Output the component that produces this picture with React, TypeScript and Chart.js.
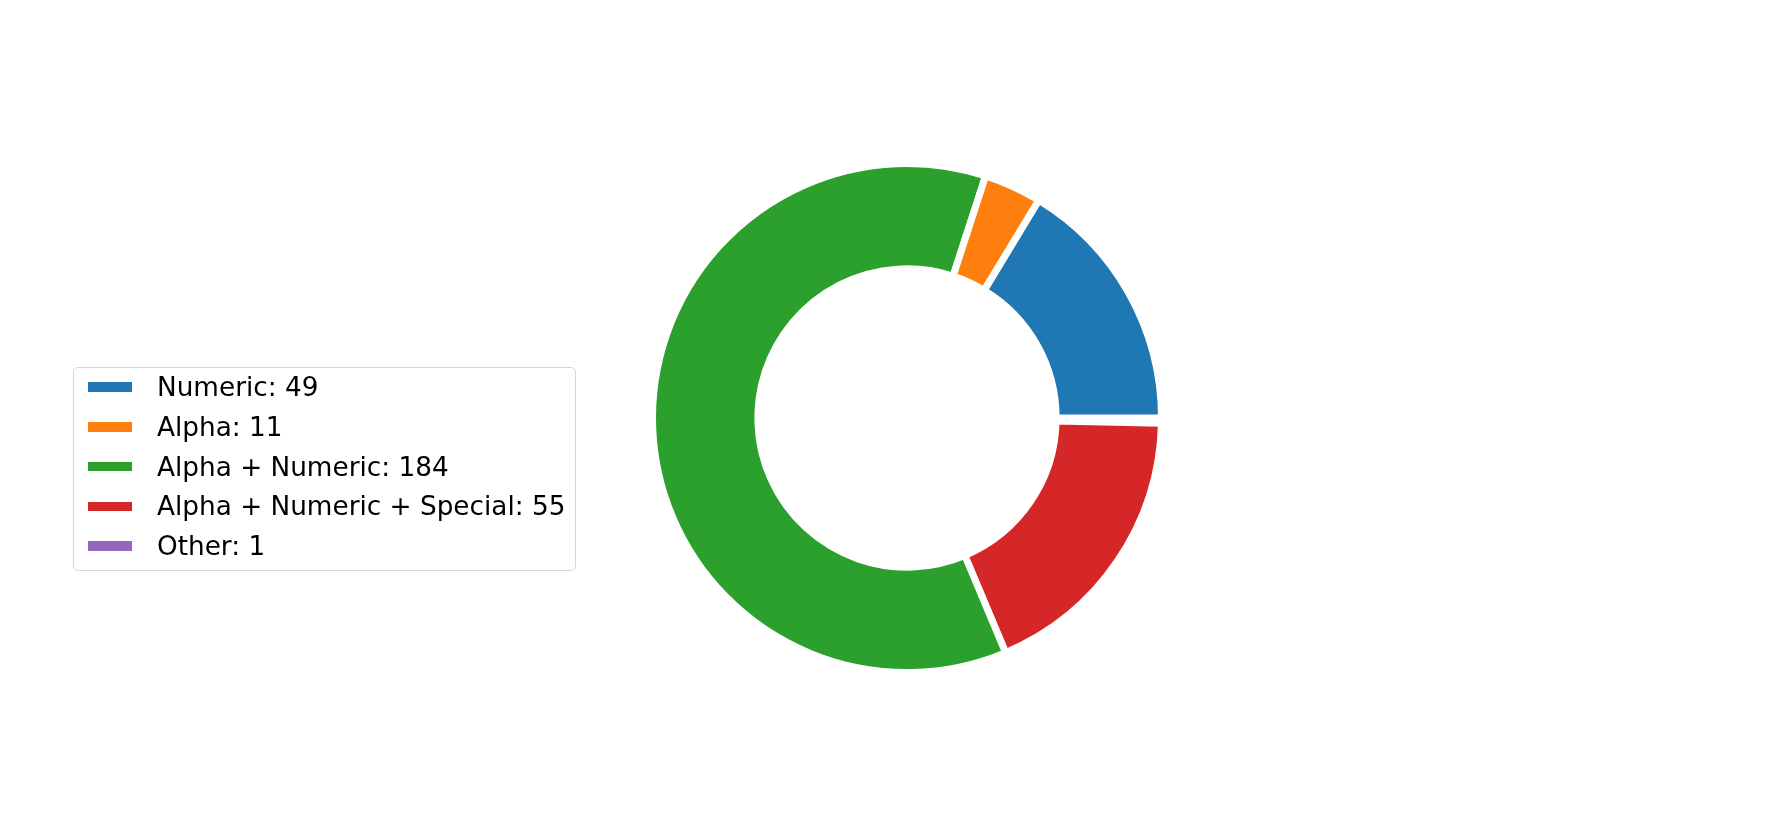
import { useEffect, useRef } from 'react';
import Chart from 'chart.js/auto';

// password composition counts
const categories = ['Numeric', 'Alpha', 'Alpha + Numeric', 'Alpha + Numeric + Special', 'Other'];
const counts = [49, 11, 184, 55, 1];
const colors = ['#1f77b4', '#ff7f0e', '#2ca02c', '#d62728', '#9467bd'];

const W = 1770;
const H = 826;
const CX = 907;
const CY = 418;
const R = 254.5;
const EDGE = 7;

export default function App() {
  const canvasRef = useRef<HTMLCanvasElement | null>(null);
  const chartRef = useRef<Chart | null>(null);

  useEffect(() => {
    if (!canvasRef.current) return;
    if (chartRef.current) chartRef.current.destroy();

    // matplotlib goes counter-clockwise from 3 o'clock; chart.js goes clockwise,
    // so feed the slices in reverse order and start at 3 o'clock
    const rev = <T,>(a: T[]) => a.slice().reverse();
    const half = R + EDGE / 2 + 1;

    chartRef.current = new Chart(canvasRef.current, {
      type: 'doughnut',
      data: {
        labels: rev(categories),
        datasets: [
          {
            data: rev(counts),
            backgroundColor: rev(colors),
            borderColor: '#ffffff',
            borderWidth: EDGE,
            borderJoinStyle: 'miter',
            hoverOffset: 0,
            offset: 0,
          },
        ],
      },
      options: {
        responsive: false,
        animation: false,
        rotation: 90,
        radius: R,
        cutout: '58.6%',
        layout: {
          padding: {
            left: CX - half,
            right: W - CX - half,
            top: CY - half,
            bottom: H - CY - half,
          },
        },
        plugins: {
          legend: { display: false },
          tooltip: { enabled: false },
        },
      },
    });

    return () => {
      if (chartRef.current) {
        chartRef.current.destroy();
        chartRef.current = null;
      }
    };
  }, []);

  return (
    <div
      style={{
        position: 'absolute',
        left: 0,
        top: 0,
        width: W,
        height: H,
        background: '#fff',
        fontFamily: '"DejaVu Sans", sans-serif',
      }}
    >
      <canvas ref={canvasRef} width={W} height={H} style={{ position: 'absolute', left: 0, top: 0 }} />
      <div
        style={{
          position: 'absolute',
          left: 73,
          top: 367,
          width: 501,
          height: 202,
          border: '1.3px solid #d5d5d5',
          borderRadius: 5,
          background: 'rgba(255,255,255,0.8)',
        }}
      >
        {categories.map((c, i) => (
          <div
            key={c}
            style={{
              position: 'absolute',
              left: 0,
              top: 19 + i * 39.8 - 20,
              height: 40,
              display: 'flex',
              alignItems: 'center',
              whiteSpace: 'nowrap',
            }}
          >
            <span
              style={{
                display: 'inline-block',
                marginLeft: 14,
                width: 44,
                height: 9.5,
                background: colors[i],
              }}
            />
            <span style={{ marginLeft: 25, fontSize: 26.3, lineHeight: '40px', color: '#000' }}>
              {c}: {counts[i]}
            </span>
          </div>
        ))}
      </div>
    </div>
  );
}
